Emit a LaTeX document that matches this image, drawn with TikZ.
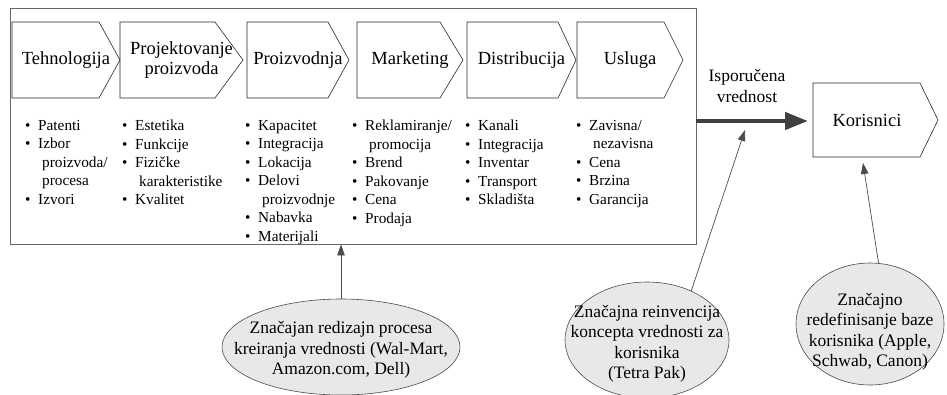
\documentclass[tikz,border=0pt]{standalone}
\usepackage{fontspec}
\setmainfont{Liberation Serif}
\usetikzlibrary{arrows.meta, shapes.geometric, positioning}
\newcommand{\itm}{\makebox[13pt][l]{\textbullet}}
\newcommand{\cnt}{\hspace*{17pt}}

\begin{document}
\begin{tikzpicture}[x=1pt, y=-1pt,
    stage/.style={draw=black!85, line width=0.6pt},
    stagelabel/.style={align=center, inner sep=0pt, font=\fontsize{18.5}{20}\selectfont},
    items/.style={anchor=north west, align=left, inner sep=0pt, font=\fontsize{15.3}{18.5}\selectfont},
    frame/.style={draw=black!60, line width=0.8pt, minimum width=686pt, minimum height=236pt, inner sep=0pt},
    idea/.style={ellipse, draw=black!70, fill=black!9, line width=0.6pt, inner sep=0pt},
    ideatext/.style={align=center, inner sep=0pt, font=\fontsize{17.5}{20.5}\selectfont},
    link/.style={draw=black!70, line width=0.7pt, -{Triangle[length=11pt, width=7.5pt]}},
    flow/.style={draw=black!75, line width=4.5pt, -{Triangle[length=23pt, width=17pt]}}]
  \useasboundingbox (0,0) rectangle (947,394);

  % value chain
  \node[frame] (chain) at (353,126) {};
  \foreach \nm/\xa/\xb/\xc/\txt in {tech/12/99/120/Tehnologija,
      design/120/215/243/{Projektovanje\\ proizvoda}, prod/247/328/349/Proizvodnja,
      mkt/357/440/463/Marketing, dist/467/558/576/Distribucija, serv/577/664/683/Usluga} {
    \draw[stage] (\xa,22) -- (\xb,22) -- (\xc,60) -- (\xb,98) -- (\xa,98) -- cycle;
    \node[stagelabel] (\nm) at ({(\xa+\xc)/2},60) {\txt};
  }

  \node[items] (techlist) at (25,120) {\itm Patenti\\ \itm Izbor\\ \cnt proizvoda/\\ \cnt procesa\\ \itm Izvori};
  \node[items] (designlist) at (122,120) {\itm Estetika\\ \itm Funkcije\\ \itm Fizičke\\ \cnt karakteristike\\ \itm Kvalitet};
  \node[items] (prodlist) at (245,120) {\itm Kapacitet\\ \itm Integracija\\ \itm Lokacija\\ \itm Delovi\\ \cnt proizvodnje\\ \itm Nabavka\\ \itm Materijali};
  \node[items] (mktlist) at (352,120) {\itm Reklamiranje/\\ \cnt promocija\\ \itm Brend\\ \itm Pakovanje\\ \itm Cena\\ \itm Prodaja};
  \node[items] (distlist) at (465,120) {\itm Kanali\\ \itm Integracija\\ \itm Inventar\\ \itm Transport\\ \itm Skladišta};
  \node[items] (servlist) at (576,120) {\itm Zavisna/\\ \cnt nezavisna\\ \itm Cena\\ \itm Brzina\\ \itm Garancija};

  % customers
  \draw[stage] (813,83) -- (920,83) -- (938,120) -- (920,157) -- (813,157) -- cycle;
  \node[stagelabel] (cust) at (867,120) {Korisnici};
  \coordinate (custin) at (808,121);
  \draw[flow] (chain.east |- custin) -- (custin);
  \node[ideatext] (deliv) at (747,86) {Isporučena\\ vrednost};

  % innovations
  \node[idea, minimum width=238pt, minimum height=96pt] (ideaA) at (341,347) {};
  \node[ideatext] (ideaAtext) at (341,350) {Značajan redizajn procesa\\ kreiranja vrednosti (Wal-Mart,\\ Amazon.com, Dell)};
  \node[idea, minimum width=164pt, minimum height=116pt] (ideaB) at (647,340) {};
  \node[ideatext] (ideaBtext) at (647,344) {Značajna reinvencija\\ koncepta vrednosti za\\ korisnika\\ (Tetra Pak)};
  \node[idea, minimum width=148pt, minimum height=122pt] (ideaC) at (870,324) {};
  \node[ideatext] (ideaCtext) at (870,332) {Značajno\\ redefinisanje baze\\ korisnika (Apple,\\ Schwab, Canon)};

  \coordinate (hit) at (745,130);
  \coordinate (custfoot) at (863,163);
  \draw[link] (ideaA) -- (ideaA |- chain.south);
  \draw[link] (ideaB.48) -- (hit);
  \draw[link] (ideaC.82) -- (custfoot);
\end{tikzpicture}
\end{document}
